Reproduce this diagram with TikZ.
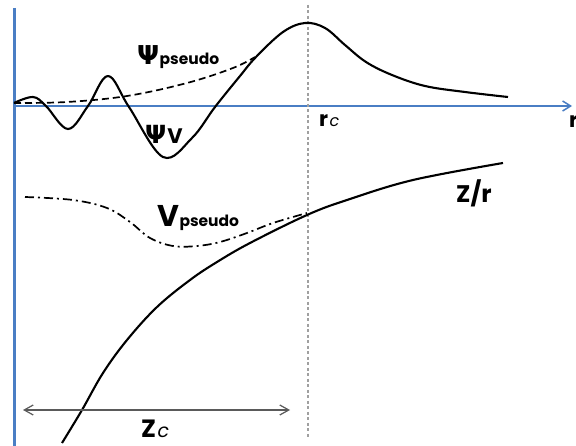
\documentclass[tikz,border=0pt]{standalone}
\usepackage{fontspec}
\setmainfont{Poppins}
\newfontfamily\grk{DejaVu Sans}
\usetikzlibrary{arrows.meta}
\definecolor{axisblue}{RGB}{74,126,196}
\definecolor{guide}{RGB}{160,160,160}
\definecolor{dimgray}{RGB}{90,90,90}
\begin{document}
\begin{tikzpicture}[x=1pt,y=-1pt,
  curve/.style={line width=2.1pt, black, line join=round},
  lbl/.style={anchor=base west, inner sep=0pt, font=\bfseries},
  axisline/.style={axisblue},
  ]
\useasboundingbox (0,0) rectangle (576,446);
\fill[white] (0,0) rectangle (576,446);
% axes
\coordinate (o) at (14,106);
\coordinate (ytop) at (14,8);
\coordinate (ybot) at (14,446);
\coordinate (xend) at (572,106);
\draw[axisline, line width=3pt] (ytop) -- (ybot);
\draw[axisline, line width=1.8pt, -{Straight Barb[length=8pt,width=10pt,line width=1.5pt]}] (o) -- (xend);
% rc guide
\coordinate (gtop) at (308,5);
\coordinate (gbot) at (308,437);
\draw[guide, line width=2.4pt, dash pattern=on 3pt off 2.5pt] (gtop) -- (gbot);
% psi V
\draw[curve] plot[smooth, tension=0.6] coordinates {
 (14,103) (33,97) (46,106) (68,129) (88,106) (108,76) (129,107) (163,157)
 (192,138) (215,107) (240,76) (256,57) (283,32) (305,23) (325,28) (345,45) (366,62)
 (392,75) (425,86) (465,92) (508,97)};
% psi pseudo
\draw[curve, line width=1.7pt, dash pattern=on 7pt off 4pt] plot[smooth, tension=0.6] coordinates {
 (14,103) (67,102) (127,96) (187,83) (233,68) (255,57)};
% Z/r
\draw[curve] plot[smooth, tension=0.6] coordinates {
 (62,443) (82,410) (103,373) (127,340) (157,307) (190,280) (217,262) (250,243)
 (307,215) (347,200) (413,180) (503,163)};
% V pseudo
\draw[curve, line width=1.7pt, dash pattern=on 9pt off 4pt on 2pt off 4pt] plot[smooth, tension=0.6] coordinates {
 (25,197) (73,200) (107,208) (130,222) (150,238) (173,246) (197,246) (220,242)
 (247,233) (273,223) (307,213)};
% Zc dimension
\coordinate (zl) at (23,410);
\coordinate (zr) at (290,410);
\draw[dimgray, line width=1.2pt, {Straight Barb[length=9pt,width=10pt]}-{Straight Barb[length=9pt,width=10pt]}] (zl) -- (zr);
% labels
\node[lbl, font=\grk\bfseries\fontsize{26}{26}\selectfont] (psip) at (137,65) {Ψ};
\node[lbl, font=\bfseries\fontsize{15.5}{15.5}\selectfont, anchor=base west] (psips) at (psip.base east) {pseudo};
\node[lbl, font=\grk\bfseries\fontsize{25}{25}\selectfont] (psiv) at (145,144) {Ψ};
\node[lbl, font=\bfseries\fontsize{21}{21}\selectfont, anchor=base west] (psivs) at ([xshift=0.5pt]psiv.base east) {V};
\node[lbl, font=\bfseries\fontsize{30}{30}\selectfont] (vp) at (157,227) {V};
\node[lbl, font=\bfseries\fontsize{15.5}{15.5}\selectfont, anchor=base west] (vps) at (vp.base east) {pseudo};
\node[lbl, font=\bfseries\fontsize{24}{24}\selectfont] (zrl) at (456,203) {Z/r};
\node[lbl, font=\bfseries\fontsize{21}{21}\selectfont] (rc) at (319,127) {r};
\node[lbl, font=\itshape\fontsize{16}{16}\selectfont, anchor=base west] (rcs) at ([xshift=1pt]rc.base east) {c};
\node[lbl, font=\bfseries\fontsize{21}{21}\selectfont] (rr) at (569,128) {r};
\node[lbl, font=\bfseries\fontsize{25}{25}\selectfont] (zc) at (141,438) {Z};
\node[lbl, font=\itshape\fontsize{19}{19}\selectfont, anchor=base west] (zcs) at ([xshift=1pt]zc.base east) {c};
\end{tikzpicture}
\end{document}
